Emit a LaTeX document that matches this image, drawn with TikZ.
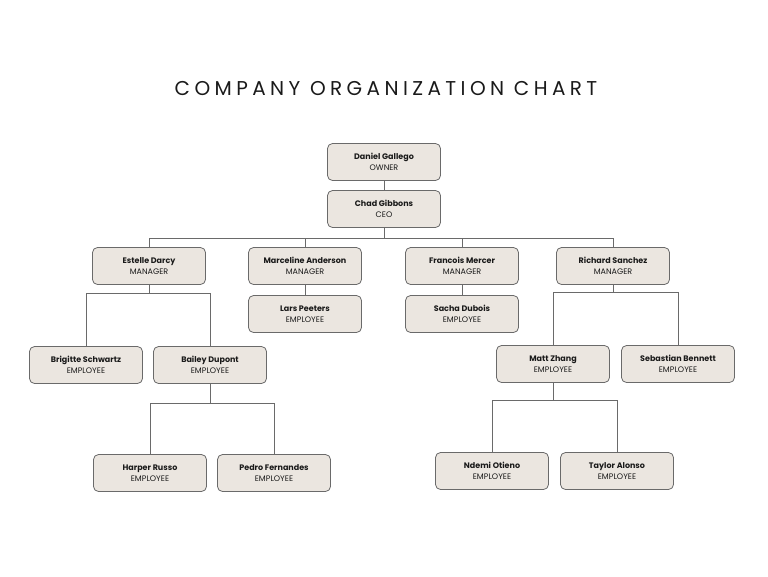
\documentclass[tikz,border=0pt]{standalone}
\usepackage{fontspec}
\setmainfont{Poppins}
\definecolor{boxfill}{HTML}{EBE6E0}
\definecolor{boxline}{HTML}{6A6A6A}
\definecolor{txt}{HTML}{1A1A1A}
\begin{document}
\begin{tikzpicture}[x=1pt,y=-1pt,
  person/.style={draw=boxline,fill=boxfill,rounded corners=5pt,line width=0.8pt,minimum width=113pt,minimum height=37pt,align=center,inner sep=1pt,text=txt,font=\fontsize{8}{11.5}\selectfont},
  link/.style={draw=boxline,line width=0.8pt}]
\useasboundingbox (0,0) rectangle (768,576);
\node[text=txt,font=\fontsize{20}{22}\selectfont\addfontfeatures{LetterSpace=22}] (title) at (386,89) {COMPANY ORGANIZATION CHART};
\newcommand{\pp}[4]{\node[person] (#1) at (#2) {\textbf{#3}\\#4};}
\pp{dan}{384,162}{Daniel Gallego}{OWNER}
\pp{chad}{384,209}{Chad Gibbons}{CEO}
\pp{est}{149,266}{Estelle Darcy}{MANAGER}
\pp{mar}{305,266}{Marceline Anderson}{MANAGER}
\pp{fra}{462,266}{Francois Mercer}{MANAGER}
\pp{ric}{613,266}{Richard Sanchez}{MANAGER}
\pp{lar}{305,314}{Lars Peeters}{EMPLOYEE}
\pp{sac}{462,314}{Sacha Dubois}{EMPLOYEE}
\pp{bri}{86,365}{Brigitte Schwartz}{EMPLOYEE}
\pp{bai}{210,365}{Bailey Dupont}{EMPLOYEE}
\pp{har}{150,473}{Harper Russo}{EMPLOYEE}
\pp{ped}{274,473}{Pedro Fernandes}{EMPLOYEE}
\pp{mat}{553,364}{Matt Zhang}{EMPLOYEE}
\pp{seb}{678,364}{Sebastian Bennett}{EMPLOYEE}
\pp{nde}{492,471}{Ndemi Otieno}{EMPLOYEE}
\pp{tay}{617,471}{Taylor Alonso}{EMPLOYEE}
\draw[link] (dan) -- (chad);
\draw[link] (chad.south) -- ++(0,10) -| (est.north);
\draw[link] (chad.south) -- ++(0,10) -| (mar.north);
\draw[link] (chad.south) -- ++(0,10) -| (fra.north);
\draw[link] (chad.south) -- ++(0,10) -| (ric.north);
\draw[link] (mar) -- (lar);
\draw[link] (fra) -- (sac);
\draw[link] (est.south) -- ++(0,8) -| (bri.north);
\draw[link] (est.south) -- ++(0,8) -| (bai.north);
\draw[link] (bai.south) -- ++(0,19) -| (har.north);
\draw[link] (bai.south) -- ++(0,19) -| (ped.north);
\draw[link] (ric.south) -- ++(0,7) -| (mat.north);
\draw[link] (ric.south) -- ++(0,7) -| (seb.north);
\draw[link] (mat.south) -- ++(0,17) -| (nde.north);
\draw[link] (mat.south) -- ++(0,17) -| (tay.north);
\end{tikzpicture}
\end{document}
